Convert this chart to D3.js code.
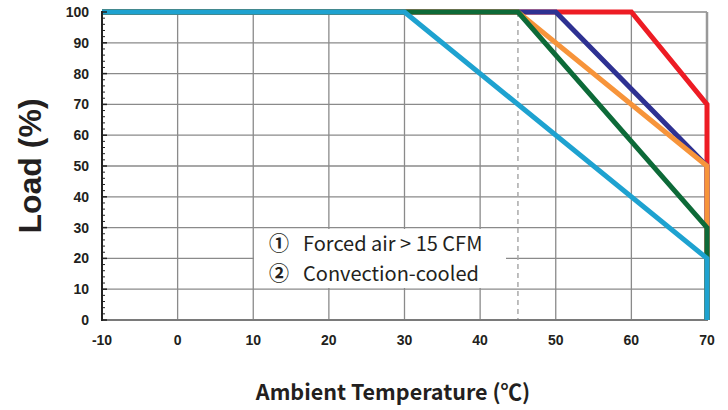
<!DOCTYPE html>
<html>
<head>
<meta charset="utf-8">
<script src="https://cdn.jsdelivr.net/npm/d3@7"></script>
<style>
  html, body { margin: 0; padding: 0; background: #fff; }
  svg { display: block; }
</style>
</head>
<body>
<svg id="chart" width="728" height="410"></svg>
<script>
// -------------- DATA ----------------- //
const xTicks = [-10, 0, 10, 20, 30, 40, 50, 60, 70];
const yTicks = [0, 10, 20, 30, 40, 50, 60, 70, 80, 90, 100];
const legendMarks = ["\u2460", "\u2461"];
const legendLabels = ["Forced air > 15 CFM", "Convection-cooled"];

// derating curves, drawn bottom to top
const redTemp = [-10, 60, 70, 70];
const redLoad = [100, 100, 70, 0];
const navyTemp = [-10, 50, 70, 70];
const navyLoad = [100, 100, 50, 0];
const orangeTemp = [-10, 45, 70, 70];
const orangeLoad = [100, 100, 50, 0];
const greenTemp = [-10, 45, 70, 70];
const greenLoad = [100, 100, 30, 0];
const blueTemp = [-10, 30, 70, 70];
const blueLoad = [100, 100, 20, 0];
const dashedAt = 45;

const series = [
    { temp: redTemp, load: redLoad, color: "#ed1c24" },
    { temp: navyTemp, load: navyLoad, color: "#2e3192" },
    { temp: orangeTemp, load: orangeLoad, color: "#f7943a" },
    { temp: greenTemp, load: greenLoad, color: "#0d6a38" },
    { temp: blueTemp, load: blueLoad, color: "#1ea2d0" }
];

// -------------- SETUP ----------------- //
const svg = d3.select("#chart");
const plotLeft = 102, plotRight = 707, plotTop = 12, plotBottom = 320;

const x = d3.scaleLinear().domain([-10, 70]).range([plotLeft, plotRight]);
const y = d3.scaleLinear().domain([0, 100]).range([plotBottom, plotTop]);

const textColor = "#231f20";
const gridColor = "#8a8a8a";
const cjkFont = "'Noto Sans CJK JP', 'Noto Sans', sans-serif";

// grid
svg.append("g")
    .selectAll("line")
    .data(xTicks.slice(1))
    .join("line")
    .attr("x1", d => x(d)).attr("x2", d => x(d))
    .attr("y1", plotTop).attr("y2", plotBottom)
    .attr("stroke", gridColor)
    .attr("stroke-width", 1.3);

svg.append("g")
    .selectAll("line")
    .data(yTicks.slice(1))
    .join("line")
    .attr("x1", plotLeft).attr("x2", plotRight)
    .attr("y1", d => y(d)).attr("y2", d => y(d))
    .attr("stroke", gridColor)
    .attr("stroke-width", 1.3);

// right border
svg.append("line")
    .attr("x1", plotRight).attr("x2", plotRight)
    .attr("y1", plotTop).attr("y2", plotBottom)
    .attr("stroke", "#999").attr("stroke-width", 2.5);

// dashed 45 line
svg.append("line")
    .attr("x1", x(dashedAt)).attr("x2", x(dashedAt))
    .attr("y1", plotTop).attr("y2", plotBottom)
    .attr("stroke", "#aaa")
    .attr("stroke-width", 1.5)
    .attr("stroke-dasharray", "5,4");

// legend box
const legend = svg.append("g");
legend.append("rect")
    .attr("x", 254).attr("y", 229)
    .attr("width", 252).attr("height", 59)
    .attr("fill", "#fff");
legend.selectAll("text.mark")
    .data(legendMarks)
    .join("text")
    .attr("class", "mark")
    .attr("x", 269)
    .attr("y", (d, i) => 251 + i * 30)
    .attr("font-family", cjkFont)
    .attr("font-weight", "bold")
    .attr("font-size", 20)
    .attr("fill", textColor)
    .text(d => d);
legend.selectAll("text.label")
    .data(legendLabels)
    .join("text")
    .attr("class", "label")
    .attr("x", 303)
    .attr("y", (d, i) => 251 + i * 30)
    .attr("font-family", cjkFont)
    .attr("font-size", 20)
    .attr("fill", textColor)
    .text(d => d);

// bottom axis line
svg.append("line")
    .attr("x1", plotLeft).attr("x2", plotRight + 1)
    .attr("y1", plotBottom).attr("y2", plotBottom)
    .attr("stroke", "#7a7a7a").attr("stroke-width", 2);

// curves
const line = d3.line()
    .x(d => x(d[0]))
    .y(d => y(d[1]));

series.forEach(s => {
    const pts = s.temp.map((t, i) => [t, s.load[i]]);
    svg.append("path")
        .attr("d", line(pts))
        .attr("fill", "none")
        .attr("stroke", s.color)
        .attr("stroke-width", 5)
        .attr("stroke-linejoin", "miter");
});

// left axis with minor ticks
const yAxisG = svg.append("g");
yAxisG.append("line")
    .attr("x1", plotLeft).attr("x2", plotLeft)
    .attr("y1", plotTop - 1).attr("y2", plotBottom + 1)
    .attr("stroke", "#222").attr("stroke-width", 2);
const minor = d3.range(0, 100, 2).filter(v => v % 10 !== 0);
yAxisG.selectAll("line.minor")
    .data(minor)
    .join("line")
    .attr("class", "minor")
    .attr("x1", plotLeft).attr("x2", plotLeft + 3)
    .attr("y1", d => y(d)).attr("y2", d => y(d))
    .attr("stroke", "#222").attr("stroke-width", 1);
yAxisG.selectAll("line.major")
    .data(yTicks)
    .join("line")
    .attr("class", "major")
    .attr("x1", plotLeft).attr("x2", plotLeft + 5)
    .attr("y1", d => y(d)).attr("y2", d => y(d))
    .attr("stroke", "#222").attr("stroke-width", 1.5);

// tick labels
svg.append("g")
    .selectAll("text")
    .data(yTicks)
    .join("text")
    .attr("x", 89)
    .attr("y", d => y(d) + 5)
    .attr("text-anchor", "end")
    .attr("font-family", "'Liberation Sans', Arial, sans-serif")
    .attr("font-weight", "bold")
    .attr("font-size", 14)
    .attr("fill", textColor)
    .text(d => d);

svg.append("g")
    .selectAll("text")
    .data(xTicks)
    .join("text")
    .attr("x", d => x(d))
    .attr("y", 345)
    .attr("text-anchor", "middle")
    .attr("font-family", "'Liberation Sans', Arial, sans-serif")
    .attr("font-weight", "bold")
    .attr("font-size", 14)
    .attr("fill", textColor)
    .text(d => d);

// axis titles
svg.append("text")
    .attr("transform", "translate(41,166) rotate(-90)")
    .attr("text-anchor", "middle")
    .attr("font-family", "'Liberation Sans', Arial, sans-serif")
    .attr("font-weight", "bold")
    .attr("font-size", 32)
    .attr("fill", textColor)
    .text("Load (%)");

svg.append("text")
    .attr("x", 393)
    .attr("y", 400)
    .attr("text-anchor", "middle")
    .attr("font-family", cjkFont)
    .attr("font-weight", "bold")
    .attr("font-size", 21.5)
    .attr("fill", textColor)
    .text("Ambient Temperature (\u2103)");
</script>
</body>
</html>
